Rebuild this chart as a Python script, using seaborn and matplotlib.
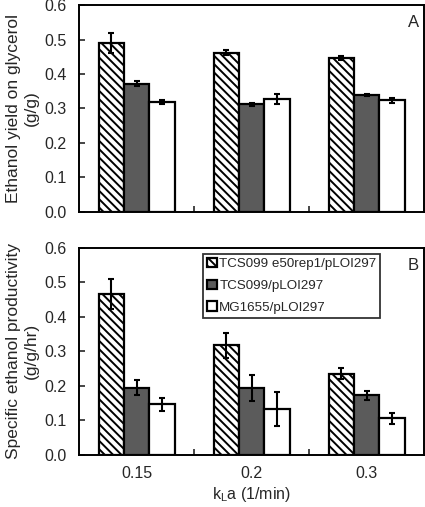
import numpy as np
import pandas as pd
import seaborn as sns
import matplotlib.pyplot as plt
from matplotlib.container import BarContainer

# 数据
kla = ['0.15', '0.2', '0.3']
strains = ['TCS099 e50rep1/pLOI297', 'TCS099/pLOI297', 'MG1655/pLOI297']

# A: ethanol yield (g/g)
yield_e50 = [0.489, 0.462, 0.446]
yield_tcs = [0.372, 0.312, 0.340]
yield_mg = [0.319, 0.327, 0.324]
yield_e50_err = [0.029, 0.008, 0.006]
yield_tcs_err = [0.008, 0.005, 0.003]
yield_mg_err = [0.007, 0.015, 0.007]

# B: specific productivity (g/g/hr)
prod_e50 = [0.467, 0.317, 0.235]
prod_tcs = [0.195, 0.194, 0.172]
prod_mg = [0.147, 0.132, 0.106]
prod_e50_err = [0.044, 0.036, 0.016]
prod_tcs_err = [0.022, 0.037, 0.012]
prod_mg_err = [0.019, 0.049, 0.016]

sns.set_style('white')
plt.rcParams['font.family'] = ['Liberation Sans', 'DejaVu Sans']
plt.rcParams['hatch.linewidth'] = 1.4
plt.rcParams['mathtext.fontset'] = 'custom'
plt.rcParams['mathtext.rm'] = 'Liberation Sans'
plt.rcParams['mathtext.it'] = 'Liberation Sans'

fills = ['white', '#5b5b5b', 'white']
hatches = ['\\\\\\\\', '', '']


def make_df(vals, errs):
    rows = []
    for s, v, e in zip(strains, vals, errs):
        for k, vv, ee in zip(kla, v, e):
            rows.append({'kla': k, 'strain': s, 'val': vv, 'err': ee})
    return pd.DataFrame(rows)


def draw(ax, df, ylabel, letter):
    sns.barplot(data=df, x='kla', y='val', hue='strain', hue_order=strains,
                palette=dict(zip(strains, fills)), width=0.66, errorbar=None,
                edgecolor='black', linewidth=1.6, saturation=1, ax=ax)
    bars = [c for c in ax.containers if isinstance(c, BarContainer)]
    for cont, h, s in zip(bars, hatches, strains):
        errs = df[df['strain'] == s]['err'].values
        xs = []
        ys = []
        for p in cont.patches:
            p.set_hatch(h)
            xs.append(p.get_x() + p.get_width() / 2)
            ys.append(p.get_height())
        ax.errorbar(xs, ys, yerr=errs, fmt='none', ecolor='black',
                    elinewidth=1.5, capsize=2.5, capthick=1.5, zorder=5)
    ax.set_ylim(0, 0.6)
    ax.set_xlim(-0.5, 2.5)
    ax.set_yticks(np.arange(0, 0.61, 0.1))
    ax.set_yticklabels(['%.1f' % t for t in np.arange(0, 0.61, 0.1)])
    ax.set_ylabel(ylabel, fontsize=12.5, labelpad=4)
    ax.set_xlabel('')
    ax.text(0.985, 0.95, letter, transform=ax.transAxes, ha='right', va='top', fontsize=12)
    for sp in ax.spines.values():
        sp.set_visible(True)
        sp.set_color('black')
        sp.set_linewidth(1.4)
    ax.tick_params(axis='y', direction='in', length=4, width=1.2, labelsize=11.5, left=True, pad=9)
    # 组间刻度
    ax.set_xticks([0.5, 1.5], minor=True)
    ax.tick_params(axis='x', which='minor', direction='in', length=4, width=1.2, bottom=True)
    ax.tick_params(axis='x', which='major', length=0, labelsize=11.5, pad=8)
    return bars


fig = plt.figure(figsize=(4.25, 5.07), dpi=100)
ax1 = fig.add_axes([0.186, 0.582, 0.812, 0.408])
ax2 = fig.add_axes([0.186, 0.103, 0.812, 0.408])

draw(ax1, make_df([yield_e50, yield_tcs, yield_mg], [yield_e50_err, yield_tcs_err, yield_mg_err]),
     'Ethanol yield on glycerol\n(g/g)', 'A')
ax1.legend_.remove()
ax1.set_xticklabels([])

bars2 = draw(ax2, make_df([prod_e50, prod_tcs, prod_mg], [prod_e50_err, prod_tcs_err, prod_mg_err]),
             'Specific ethanol productivity\n(g/g/hr)', 'B')
ax2.legend_.remove()
ax2.set_xlabel('k$_\\mathrm{L}$a (1/min)', fontsize=11.5, labelpad=3)

handles = [c.patches[0] for c in bars2]
leg = ax2.legend(handles, strains, loc='upper left', bbox_to_anchor=(0.36, 0.97),
                 fontsize=9.6, frameon=True, fancybox=False, handlelength=0.7,
                 handleheight=0.7, handletextpad=0.2, borderpad=0.3, labelspacing=0.7,
                 borderaxespad=0)
leg.get_frame().set_edgecolor('black')
leg.get_frame().set_linewidth(1.3)

plt.savefig('out.png', dpi=100)
